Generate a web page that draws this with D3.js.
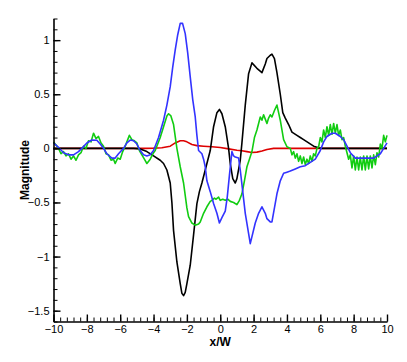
<!DOCTYPE html>
<html>
<head>
<meta charset="utf-8">
<script src="https://cdn.jsdelivr.net/npm/d3@7"></script>
<style>
  body { margin: 0; background: #fff; }
  svg { display: block; font-family: "Liberation Sans", Arial, sans-serif; }
  .axis text { font-size: 11px; fill: #000; }
  .axis path, .axis line { stroke: #000; }
</style>
</head>
<body>
<svg id="chart" width="407" height="362"></svg>
<script>
// [x/W, magnitude] pairs
var redPts = [[-10,0],[-4.5,0],[-4.0,0.002],[-3.5,0.006],[-3.0,0.02],[-2.7,0.05],[-2.4,0.07],[-2.2,0.07],
  [-2.0,0.06],[-1.7,0.035],[-1.4,0.025],[-1.0,0.02],[-0.5,0.015],[0.0,0.008],[0.5,-0.005],[1.0,-0.017],
  [1.3,-0.022],[1.6,-0.03],[1.9,-0.038],[2.2,-0.035],[2.5,-0.025],[2.8,-0.01],[3.2,0.0],[4.0,0.0],[10,0]];

var blackPts = [[-10,0],[-5.2,0],[-4.8,-0.005],[-4.4,-0.03],[-4.0,-0.07],[-3.6,-0.11],[-3.4,-0.14],[-3.2,-0.2],
  [-3.0,-0.32],[-2.9,-0.5],[-2.8,-0.76],[-2.6,-1.05],[-2.4,-1.25],[-2.3,-1.34],[-2.2,-1.36],[-2.1,-1.33],
  [-2.0,-1.25],[-1.8,-1.08],[-1.6,-0.8],[-1.4,-0.51],[-1.25,-0.4],[-1.1,-0.32],[-0.9,-0.2],[-0.6,-0.02],
  [-0.4,0.2],[-0.2,0.33],[-0.05,0.36],[0.1,0.32],[0.3,0.2],[0.5,0.0],[0.6,-0.14],[0.75,-0.28],[0.9,-0.32],
  [1.0,-0.28],[1.2,-0.11],[1.3,0.05],[1.5,0.4],[1.7,0.69],[1.9,0.79],[2.2,0.74],[2.5,0.70],[2.7,0.78],
  [2.8,0.83],[3.0,0.86],[3.1,0.87],[3.25,0.83],[3.4,0.7],[3.6,0.5],[3.75,0.33],[3.9,0.28],[4.1,0.22],
  [4.3,0.15],[4.6,0.12],[4.8,0.1],[5.0,0.08],[5.3,0.05],[5.6,0.02],[5.9,0.005],[6.1,0],[10,0]];

var greenPts = [[-10,0.06],[-9.85,0.03],[-9.7,0.0],[-9.55,-0.05],[-9.4,-0.03],[-9.25,-0.07],[-9.1,-0.05],
  [-8.95,-0.1],[-8.8,-0.07],[-8.65,-0.11],[-8.5,-0.06],[-8.35,-0.04],[-8.2,0.02],[-8.05,0.0],[-7.9,0.07],
  [-7.75,0.06],[-7.6,0.14],[-7.45,0.09],[-7.3,0.11],[-7.15,0.05],[-7.0,0.02],[-6.85,-0.05],[-6.7,-0.06],
  [-6.55,-0.11],[-6.4,-0.1],[-6.3,-0.14],[-6.15,-0.09],[-6.0,-0.1],[-5.85,-0.03],[-5.7,0.02],[-5.6,0.06],
  [-5.45,0.12],[-5.3,0.08],[-5.15,0.07],[-5.0,0.05],[-4.85,-0.02],[-4.7,-0.06],[-4.55,-0.1],[-4.4,-0.14],
  [-4.2,-0.1],[-4.0,-0.04],[-3.9,-0.02],[-3.6,0.1],[-3.4,0.2],[-3.2,0.3],[-3.1,0.32],[-2.96,0.3],
  [-2.8,0.22],[-2.6,0.0],[-2.4,-0.17],[-2.2,-0.32],[-2.0,-0.55],[-1.9,-0.63],[-1.7,-0.69],[-1.5,-0.71],
  [-1.3,-0.7],[-1.2,-0.68],[-1.0,-0.6],[-0.8,-0.54],[-0.6,-0.49],[-0.5,-0.48],[-0.35,-0.46],[-0.25,-0.47],
  [-0.1,-0.45],[0.0,-0.48],[0.15,-0.47],[0.3,-0.48],[0.45,-0.47],[0.6,-0.49],[0.8,-0.5],[1.0,-0.52],
  [1.15,-0.48],[1.3,-0.42],[1.45,-0.3],[1.6,-0.17],[1.75,-0.1],[1.9,-0.03],[2.05,0.1],[2.2,0.17],
  [2.4,0.29],[2.5,0.26],[2.6,0.31],[2.7,0.27],[2.8,0.23],[2.9,0.28],[3.0,0.31],[3.1,0.29],[3.25,0.35],
  [3.4,0.40],[3.5,0.33],[3.6,0.26],[3.7,0.17],[3.8,0.08],[4.0,0.015],[4.2,0.0],[4.3,-0.06],[4.4,-0.03],
  [4.5,-0.09],[4.6,-0.05],[4.7,-0.12],[4.8,-0.07],[4.9,-0.14],[5.0,-0.08],[5.1,-0.15],[5.2,-0.1],
  [5.3,-0.14],[5.4,-0.07],[5.5,-0.12],[5.6,-0.05],[5.7,-0.07],[5.8,0.0],[5.9,0.015],[6.0,0.1],[6.1,0.06],
  [6.2,0.17],[6.3,0.1],[6.4,0.2],[6.5,0.12],[6.6,0.22],[6.7,0.13],[6.8,0.23],[6.9,0.14],[7.0,0.22],
  [7.1,0.12],[7.2,0.17],[7.3,0.08],[7.4,0.1],[7.5,0.02],[7.6,-0.04],[7.7,-0.1],[7.8,-0.06],[7.9,-0.18],
  [8.0,-0.07],[8.1,-0.2],[8.2,-0.08],[8.3,-0.2],[8.4,-0.08],[8.5,-0.2],[8.6,-0.07],[8.7,-0.2],[8.8,-0.07],
  [8.9,-0.19],[9.0,-0.07],[9.1,-0.18],[9.2,-0.06],[9.3,-0.15],[9.4,-0.04],[9.5,-0.08],[9.6,0.04],
  [9.7,0.0],[9.8,0.12],[9.9,0.06],[10,0.12]];

var bluePts = [[-10,0.05],[-9.7,0.01],[-9.4,-0.04],[-9.1,-0.06],[-8.8,-0.06],[-8.5,-0.03],[-8.3,0.0],
  [-8.0,0.05],[-7.7,0.077],[-7.4,0.075],[-7.2,0.04],[-7.0,0.0],[-6.8,-0.05],[-6.5,-0.09],[-6.3,-0.09],
  [-6.1,-0.05],[-5.8,0.0],[-5.6,0.05],[-5.4,0.077],[-5.2,0.07],[-5.0,0.04],[-4.8,-0.02],[-4.6,-0.06],
  [-4.4,-0.07],[-4.2,-0.06],[-4.0,-0.02],[-3.7,0.1],[-3.4,0.26],[-3.2,0.4],[-3.0,0.57],[-2.85,0.75],
  [-2.7,0.91],[-2.55,1.05],[-2.4,1.155],[-2.26,1.155],[-2.1,1.06],[-1.95,0.88],[-1.8,0.66],[-1.65,0.45],
  [-1.5,0.29],[-1.4,0.12],[-1.3,-0.02],[-1.1,-0.05],[-1.0,-0.1],[-0.9,-0.17],[-0.8,-0.3],[-0.6,-0.4],
  [-0.4,-0.51],[-0.2,-0.6],[-0.05,-0.69],[0.1,-0.64],[0.3,-0.58],[0.42,-0.45],[0.55,-0.25],[0.7,-0.03],
  [0.8,-0.07],[0.9,-0.08],[1.1,-0.09],[1.2,-0.2],[1.35,-0.4],[1.5,-0.6],[1.8,-0.88],[2.1,-0.69],
  [2.3,-0.6],[2.5,-0.54],[2.7,-0.6],[2.8,-0.65],[3.0,-0.68],[3.1,-0.68],[3.25,-0.55],[3.4,-0.42],
  [3.6,-0.3],[3.8,-0.23],[4.0,-0.22],[4.2,-0.21],[4.5,-0.19],[4.8,-0.17],[5.1,-0.16],[5.4,-0.13],
  [5.7,-0.1],[6.0,-0.02],[6.2,0.06],[6.4,0.11],[6.7,0.14],[6.9,0.14],[7.2,0.11],[7.4,0.08],[7.6,0.02],
  [7.8,-0.04],[8.1,-0.09],[8.5,-0.09],[8.9,-0.09],[9.2,-0.09],[9.4,-0.07],[9.6,-0.05],[9.8,0.0],[10,0.05]];

var xTicks = [-10, -8, -6, -4, -2, 0, 2, 4, 6, 8, 10];
var yTicks = [-1.5, -1, -0.5, 0, 0.5, 1];

var svg = d3.select("#chart"),
    margin = {top: 18.5, right: 20, bottom: 40.5, left: 53.5},
    width = +svg.attr("width") - margin.left - margin.right,
    height = +svg.attr("height") - margin.top - margin.bottom;

var g = svg.append("g")
    .attr("transform", "translate(" + margin.left + "," + margin.top + ")");

var x = d3.scaleLinear().domain([-10, 10]).range([0, width]);
var y = d3.scaleLinear().domain([-1.6, 1.2]).range([height, 0]);

var line = d3.line()
    .x(function(d) { return x(d[0]); })
    .y(function(d) { return y(d[1]); });

// red goes under black, blue on top
var series = [
  {pts: redPts, color: "#dd0000"},
  {pts: blackPts, color: "#000000"},
  {pts: greenPts, color: "#11cc11"},
  {pts: bluePts, color: "#3333ff"}
];

g.append("g").selectAll("path")
    .data(series)
  .enter().append("path")
    .attr("d", function(d) { return line(d.pts); })
    .attr("fill", "none")
    .attr("stroke", function(d) { return d.color; })
    .attr("stroke-width", 1.6)
    .attr("stroke-linejoin", "round");

// minor ticks
var xMinor = d3.range(-10, 10.001, 0.4).map(function(v) { return +v.toFixed(1); });
var yMinor = d3.range(-1.6, 1.2001, 0.1).map(function(v) { return +v.toFixed(1); });

g.append("g")
    .attr("class", "axis")
    .attr("transform", "translate(0," + height + ")")
    .call(d3.axisBottom(x).tickValues(xMinor).tickSize(-4).tickSizeOuter(0).tickFormat(""))
    .call(function(s) { s.select(".domain").remove(); });

g.append("g")
    .attr("class", "axis")
    .call(d3.axisLeft(y).tickValues(yMinor).tickSize(-4).tickSizeOuter(0).tickFormat(""))
    .call(function(s) { s.select(".domain").remove(); });

// major ticks
g.append("g")
    .attr("class", "axis")
    .attr("transform", "translate(0," + height + ")")
    .call(d3.axisBottom(x).tickValues(xTicks).tickSize(-7).tickSizeOuter(0).tickPadding(4))
    .call(function(s) {
      s.select(".domain").attr("stroke-width", 1.6);
      s.selectAll(".tick line").attr("stroke-width", 1.4);
    });

g.append("g")
    .attr("class", "axis")
    .call(d3.axisLeft(y).tickValues(yTicks).tickSize(-7).tickSizeOuter(0).tickPadding(4)
      .tickFormat(function(d) { return d3.format("")(d); }))
    .call(function(s) {
      s.select(".domain").attr("stroke-width", 1.6);
      s.selectAll(".tick line").attr("stroke-width", 1.4);
    });

svg.append("text")
    .attr("transform", "translate(29," + 170 + ") rotate(-90)")
    .attr("text-anchor", "middle")
    .attr("font-size", "12px")
    .attr("font-weight", "bold")
    .text("Magnitude");

svg.append("text")
    .attr("x", margin.left + width / 2)
    .attr("y", 346)
    .attr("text-anchor", "middle")
    .attr("font-size", "12px")
    .attr("font-weight", "bold")
    .text("x/W");
</script>
</body>
</html>
